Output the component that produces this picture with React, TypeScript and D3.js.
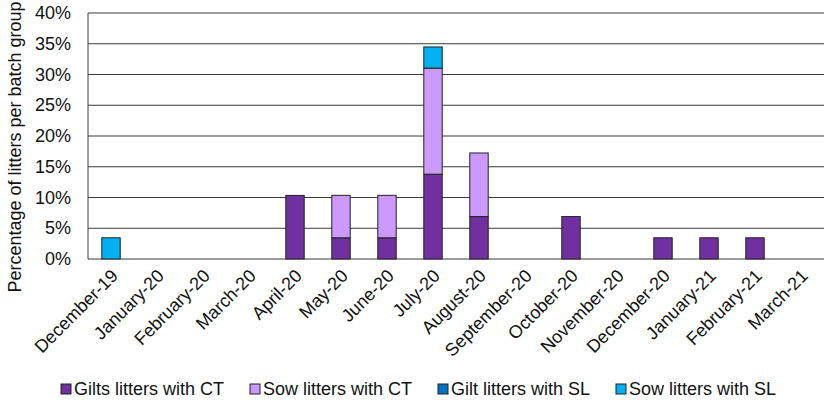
import { useMemo } from "react";
import * as d3 from "d3";

const WIDTH = 829;
const HEIGHT = 400;
const MARGIN = { top: 13, right: 5, bottom: 141, left: 88 };

const months = [
  "December-19", "January-20", "February-20", "March-20", "April-20", "May-20",
  "June-20", "July-20", "August-20", "September-20", "October-20", "November-20",
  "December-20", "January-21", "February-21", "March-21",
];

// values in percent, one per month
const giltsCT = [0, 0, 0, 0, 10.34, 3.45, 3.45, 13.79, 6.9, 0, 6.9, 0, 3.45, 3.45, 3.45, 0];
const sowCT = [0, 0, 0, 0, 0, 6.9, 6.9, 17.24, 10.34, 0, 0, 0, 0, 0, 0, 0];
const giltSL = [0, 0, 0, 0, 0, 0, 0, 0, 0, 0, 0, 0, 0, 0, 0, 0];
const sowSL = [3.45, 0, 0, 0, 0, 0, 0, 3.45, 0, 0, 0, 0, 0, 0, 0, 0];

const seriesNames = ["Gilts litters with CT", "Sow litters with CT", "Gilt litters with SL", "Sow litters with SL"];
const seriesColors = ["#7030A0", "#CC99FF", "#0070C0", "#00B0F0"];
const yTicks = [0, 5, 10, 15, 20, 25, 30, 35, 40];

const FONT = "'Liberation Sans', Arial, sans-serif";

export default function App() {
  const boundsWidth = WIDTH - MARGIN.left - MARGIN.right;
  const boundsHeight = HEIGHT - MARGIN.top - MARGIN.bottom;

  const rows = useMemo(
    () => months.map((m, i) => ({ month: m, s0: giltsCT[i], s1: sowCT[i], s2: giltSL[i], s3: sowSL[i] })),
    []
  );
  const stacked = d3.stack<any>().keys(["s0", "s1", "s2", "s3"])(rows);

  const xScale = d3.scaleBand().domain(months).range([0, boundsWidth]).paddingInner(0.6).paddingOuter(0.3);
  const yScale = d3.scaleLinear().domain([0, 40]).range([boundsHeight, 0]);

  const legendX = [61, 250, 438, 616];

  return (
    <svg width={WIDTH} height={HEIGHT} style={{ position: "absolute", left: 0, top: 0 }} fontFamily={FONT}>
      <rect width={WIDTH} height={HEIGHT} fill="#fff" />
      <g transform={`translate(${MARGIN.left},${MARGIN.top})`}>
        {yTicks.map((t) => (
          <g key={t}>
            <line x1={0} x2={boundsWidth} y1={yScale(t)} y2={yScale(t)} stroke="#3a3a3a" strokeWidth={1} />
            <text x={-17} y={yScale(t)} textAnchor="end" dominantBaseline="central" fontSize={18} fill="#111">
              {t}%
            </text>
          </g>
        ))}
        <line x1={0} x2={0} y1={0} y2={boundsHeight} stroke="#3a3a3a" />
        {stacked.map((layer, li) =>
          layer.map((d, i) => {
            const h = yScale(d[0]) - yScale(d[1]);
            if (h <= 0) return null;
            return (
              <rect
                key={`${li}-${i}`}
                x={xScale(months[i])}
                y={yScale(d[1])}
                width={xScale.bandwidth()}
                height={h}
                fill={seriesColors[li]}
                stroke="#222"
                strokeWidth={1}
              />
            );
          })
        )}
        {months.map((m) => {
          const cx = (xScale(m) ?? 0) + xScale.bandwidth() / 2 + 8;
          return (
            <text
              key={m}
              transform={`translate(${cx},${boundsHeight + 18}) rotate(-45)`}
              textAnchor="end"
              fontSize={18}
              fill="#111"
            >
              {m}
            </text>
          );
        })}
      </g>
      <text
        transform={`translate(21,${MARGIN.top + 134}) rotate(-90)`}
        textAnchor="middle"
        fontSize={18}
        fill="#111"
      >
        Percentage of litters per batch group
      </text>
      {seriesNames.map((n, i) => (
        <g key={n} transform={`translate(${legendX[i]},389)`}>
          <rect x={0} y={-5} width={10} height={10} fill={seriesColors[i]} stroke="#222" />
          <text x={13} y={0} dominantBaseline="central" fontSize={18} fill="#111">
            {n}
          </text>
        </g>
      ))}
    </svg>
  );
}
